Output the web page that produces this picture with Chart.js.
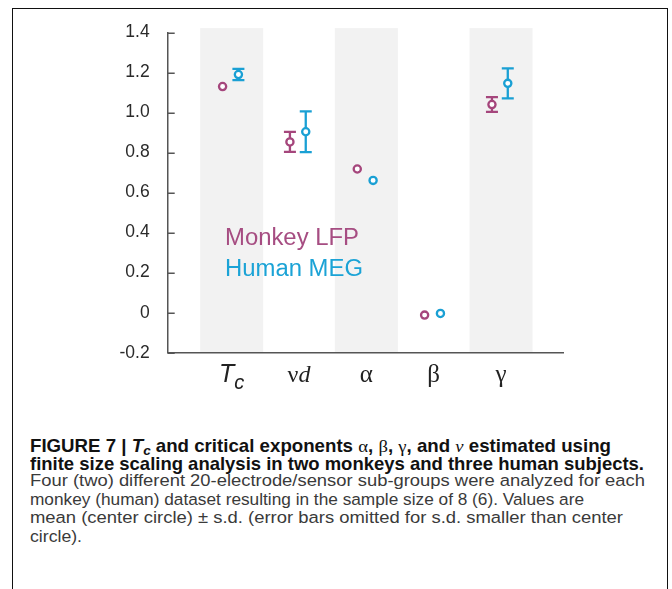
<!DOCTYPE html>
<html>
<head>
<meta charset="utf-8">
<script src="https://cdn.jsdelivr.net/npm/chart.js@4.4.1/dist/chart.umd.min.js"></script>
<style>
html, body { margin: 0; padding: 0; background: #fff; }
body { width: 672px; height: 589px; position: relative; overflow: hidden; font-family: "Liberation Sans", Arial, sans-serif; }
#wrap { position: absolute; left: 0; top: 0; width: 672px; height: 400px; }
#frame { position: absolute; left: 12px; top: 8px; width: 654px; height: 640px; border: 1px solid #111; border-bottom: none; pointer-events: none; }
.txt { position: absolute; white-space: nowrap; transform-origin: 0 0; }
.leg { font-size: 23px; line-height: 23px; }
.cap { left: 30px; line-height: 20px; }
.b { font-family: "Liberation Sans Narrow", "Liberation Sans", sans-serif; font-weight: bold; font-size: 17.7px; color: #111; }
.r { font-size: 16.8px; color: #3a3a3a; }
.g { font-family: "Liberation Serif", serif; font-weight: normal; }
.sub { font-size: 0.72em; position: relative; top: 0.25em; }
</style>
</head>
<body>
<div id="wrap"><canvas id="chart" width="672" height="400"></canvas></div>

<div class="txt leg" style="left:225px; top:226px; color:#a64d82;" data-w="134">Monkey LFP</div>
<div class="txt leg" style="left:225px; top:257px; color:#1ba3d6;" data-w="138">Human MEG</div>

<div class="txt cap b" style="top:435.5px;" data-w="581">FIGURE 7 | <i>T<span class="sub">c</span></i> and critical exponents <span class="g">α</span>, <span class="g">β</span>, <span class="g">γ</span>, and <span class="g"><i>ν</i></span> estimated using</div>
<div class="txt cap b" style="top:454px;" data-w="614">finite size scaling analysis in two monkeys and three human subjects.</div>
<div class="txt cap r" style="top:470.8px;" data-w="615">Four (two) different 20-electrode/sensor sub-groups were analyzed for each</div>
<div class="txt cap r" style="top:489.8px;" data-w="554">monkey (human) dataset resulting in the sample size of 8 (6). Values are</div>
<div class="txt cap r" style="top:508.4px;" data-w="593">mean (center circle) ± s.d. (error bars omitted for s.d. smaller than center</div>
<div class="txt cap r" style="top:527px;" data-w="52">circle).</div>

<div id="frame"></div>

<script>
// categories along the x axis (index 1..5)
const categories = ['Tc', 'νd', 'α', 'β', 'γ'];
const shadedCats = [0, 2, 4];

// means and standard deviations (0 = error bar omitted)
const monkeyMean = [1.13, 0.853, 0.718, -0.012, 1.04];
const monkeySd   = [0, 0.05, 0, 0, 0.037];
const humanMean  = [1.19, 0.904, 0.661, -0.004, 1.146];
const humanSd    = [0.028, 0.102, 0, 0, 0.075];

const yTicks = [-0.2, 0, 0.2, 0.4, 0.6, 0.8, 1.0, 1.2, 1.4];

const monkeyColor = '#a5467c';
const humanColor = '#1aa0d4';
const monkeyShift = -0.135;
const humanShift = 0.1;

function pts(means, shift) {
    return means.map((v, i) => ({ x: i + 1 + shift, y: v }));
}

// grey bands behind every other category
const bandPlugin = {
    id: 'bands',
    beforeDraw(chart) {
        const ctx = chart.ctx, xs = chart.scales.x, ys = chart.scales.y;
        ctx.save();
        ctx.fillStyle = '#f2f2f2';
        shadedCats.forEach(i => {
            const x0 = xs.getPixelForValue(i + 1 - 0.468);
            const x1 = xs.getPixelForValue(i + 1 + 0.468);
            const y0 = ys.getPixelForValue(1.422);
            ctx.fillRect(x0, y0, x1 - x0, chart.chartArea.bottom - y0);
        });
        ctx.restore();
    }
};

// error bars, drawn under the hollow markers
const errorPlugin = {
    id: 'errbars',
    beforeDatasetsDraw(chart) {
        const ctx = chart.ctx, xs = chart.scales.x, ys = chart.scales.y;
        ctx.save();
        ctx.lineWidth = 2.3;
        chart.data.datasets.forEach(ds => {
            ctx.strokeStyle = ds.borderColor;
            ds.sd.forEach((sd, i) => {
                if (!sd) return;
                const p = ds.data[i];
                const x = xs.getPixelForValue(p.x);
                const yt = ys.getPixelForValue(p.y + sd);
                const yb = ys.getPixelForValue(p.y - sd);
                ctx.beginPath();
                ctx.moveTo(x, yt); ctx.lineTo(x, yb);
                ctx.moveTo(x - 6, yt); ctx.lineTo(x + 6, yt);
                ctx.moveTo(x - 6, yb); ctx.lineTo(x + 6, yb);
                ctx.stroke();
            });
        });
        ctx.restore();
    }
};

// inward y ticks and the symbol labels under the x axis
const axisPlugin = {
    id: 'axisdeco',
    afterDraw(chart) {
        const ctx = chart.ctx, xs = chart.scales.x, ys = chart.scales.y;
        const left = chart.chartArea.left;
        ctx.save();
        ctx.strokeStyle = '#555';
        ctx.lineWidth = 1.5;
        yTicks.forEach(v => {
            const y = Math.round(ys.getPixelForValue(v)) + 0.25;
            ctx.beginPath();
            ctx.moveTo(left, y); ctx.lineTo(left + 7, y);
            ctx.stroke();
        });

        ctx.fillStyle = '#222';
        ctx.textBaseline = 'alphabetic';
        const base = 382;
        const parts = [
            [['italic 25px "Liberation Sans"', 'T', 0], ['italic 20px "Liberation Sans"', 'c', 7]],
            [['24px "Liberation Serif"', 'ν', 0], ['italic 24px "Liberation Serif"', 'd', 0]],
            [['25px "Liberation Serif"', 'α', 0]],
            [['25px "Liberation Serif"', 'β', 0]],
            [['25px "Liberation Serif"', 'γ', 0]]
        ];
        categories.forEach((c, i) => {
            const p = parts[i];
            let w = 0;
            p.forEach(s => { ctx.font = s[0]; w += ctx.measureText(s[1]).width; });
            let x = xs.getPixelForValue(i + 1) - w / 2;
            p.forEach(s => {
                ctx.font = s[0];
                ctx.fillText(s[1], x, base + s[2]);
                x += ctx.measureText(s[1]).width;
            });
        });
        ctx.restore();
    }
};

const ctx = document.getElementById('chart').getContext('2d');
const chart = new Chart(ctx, {
    type: 'scatter',
    data: {
        datasets: [{
            label: 'Monkey LFP',
            data: pts(monkeyMean, monkeyShift),
            sd: monkeySd,
            borderColor: monkeyColor,
            backgroundColor: '#fff',
            pointRadius: 3.6,
            borderWidth: 2.3
        }, {
            label: 'Human MEG',
            data: pts(humanMean, humanShift),
            sd: humanSd,
            borderColor: humanColor,
            backgroundColor: '#fff',
            pointRadius: 3.6,
            borderWidth: 2.3
        }]
    },
    options: {
        responsive: false,
        animation: false,
        layout: { padding: { top: 32.5, right: 109, left: 0, bottom: 0 } },
        scales: {
            x: {
                type: 'linear',
                min: 0.05,
                max: 5.92,
                grid: { display: false },
                border: { display: true, color: '#555', width: 1.5 },
                ticks: { display: false },
                afterFit: s => { s.height = 47.3; }
            },
            y: {
                min: -0.2,
                max: 1.4,
                grid: { display: false, drawTicks: false },
                border: { display: true, color: '#555', width: 1.5 },
                afterBuildTicks: s => { s.ticks = yTicks.map(v => ({ value: v })); },
                afterFit: s => { s.width = 167.7; },
                ticks: {
                    padding: 18,
                    color: '#2a2a2a',
                    font: { family: '"Liberation Sans", Arial, sans-serif', size: 17.5 },
                    callback: v => v === 0 ? '0' : v.toFixed(1)
                }
            }
        },
        plugins: {
            legend: { display: false },
            tooltip: { enabled: false }
        }
    },
    plugins: [bandPlugin, errorPlugin, axisPlugin]
});

// squeeze each text line to the width it has in the figure
document.querySelectorAll('[data-w]').forEach(el => {
    const w = el.getBoundingClientRect().width;
    el.style.transform = 'scaleX(' + (parseFloat(el.dataset.w) / w) + ')';
});
</script>
</body>
</html>
